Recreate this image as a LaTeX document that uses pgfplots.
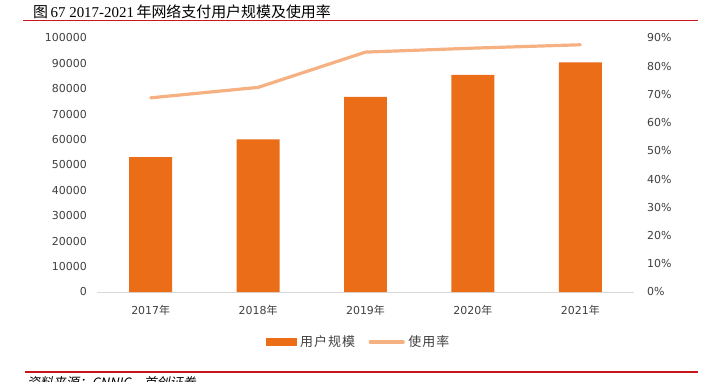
\documentclass[border=0pt]{standalone}
\usepackage{fontspec}
\setmainfont{DejaVu Sans}
\newfontfamily\cjk{Noto Sans CJK SC}
\newfontfamily\cjkleg[LetterSpace=8]{Noto Sans CJK SC}
\newfontfamily\cjkslant[FakeSlant=0.2]{Noto Sans CJK SC}
\newfontfamily\serif{Liberation Serif}
\usepackage{pgfplots}
\pgfplotsset{compat=1.18}
\definecolor{barc}{HTML}{EC6D17}
\definecolor{linec}{HTML}{F6B183}
\definecolor{redl}{HTML}{C8161D}
\definecolor{tickc}{HTML}{404040}
\definecolor{axc}{HTML}{D9D9D9}
\begin{document}
\begin{tikzpicture}[x=1bp,y=1bp]
\useasboundingbox (0,0) rectangle (707,381);
\node[anchor=base west, inner sep=0pt, font=\fontsize{15}{15}\selectfont] at (33,364) {\cjk 图\,{\serif 67 2017-2021}\,年网络支付用户规模及使用率};
\draw[redl, line width=1.5bp] (23,360.5) -- (698,360.5);
\draw[redl, line width=2bp] (25,9) -- (698,9);
\node[anchor=north west, inner sep=0pt, font=\fontsize{13}{13}\selectfont] at (27,5) {\cjkslant 资料来源：CNNIC，首创证券};
\begin{axis}[
  at={(97bp,89bp)}, anchor=south west, scale only axis,
  width=537bp, height=254bp,
  xmin=-0.5, xmax=4.5, ymin=0, ymax=100000,
  xtick={0,1,2,3,4},
  xticklabels={2017{\cjk 年},2018{\cjk 年},2019{\cjk 年},2020{\cjk 年},2021{\cjk 年}},
  ytick={0,10000,...,100000},
  scaled y ticks=false,
  axis x line*=bottom, axis y line*=left,
  y axis line style={draw=none},
  x axis line style={draw=axc, line width=0.8bp},
  major tick length=0pt,
  tick label style={font=\fontsize{11}{11}\selectfont, text=tickc},
  yticklabel style={anchor=east, inner sep=0pt, xshift=-10bp},
  xticklabel style={anchor=north, inner sep=0pt, yshift=-13bp},
  /pgf/number format/fixed,
  /pgf/number format/precision=0,
  /pgf/number format/1000 sep={},
  /pgf/number format/assume math mode=true,
]
\addplot[ybar, bar width=0.4, fill=barc, draw=none] coordinates {(0,53111) (1,60040) (2,76798) (3,85434) (4,90363)};
\end{axis}
\begin{axis}[
  at={(97bp,89bp)}, anchor=south west, scale only axis,
  width=537bp, height=254bp,
  xmin=-0.5, xmax=4.5, ymin=0, ymax=90,
  ytick={0,10,...,90},
  axis y line*=right, hide x axis,
  y axis line style={draw=none},
  major tick length=0pt,
  yticklabel={\pgfmathprintnumber{\tick}\%},
  tick label style={font=\fontsize{11}{11}\selectfont, text=tickc},
  yticklabel style={anchor=west, inner sep=0pt, xshift=13bp},
  /pgf/number format/fixed,
  /pgf/number format/precision=0,
  /pgf/number format/assume math mode=true,
  legend columns=2,
  legend style={at={(0.487,-0.197)}, anchor=center, draw=none, fill=none,
    font=\cjkleg\fontsize{13}{13}\selectfont, text=black!75,
    nodes={inner sep=1.5bp},
    /tikz/every odd column/.append style={column sep=2bp},
    /tikz/every even column/.append style={column sep=12bp}},
]
\addlegendimage{legend image code/.code={\fill[barc] (0bp,-3.5bp) rectangle (30bp,3.5bp);}}
\addlegendentry{用户规模}
\addplot[linec, line width=3.2bp, line cap=round, line join=round,
  legend image code/.code={\draw[linec, line width=3.2bp] (0bp,0bp) -- (33bp,0bp);}]
  coordinates {(0,68.8) (1,72.5) (2,85.0) (3,86.4) (4,87.6)};
\addlegendentry{使用率}
\end{axis}
\end{tikzpicture}
\end{document}
